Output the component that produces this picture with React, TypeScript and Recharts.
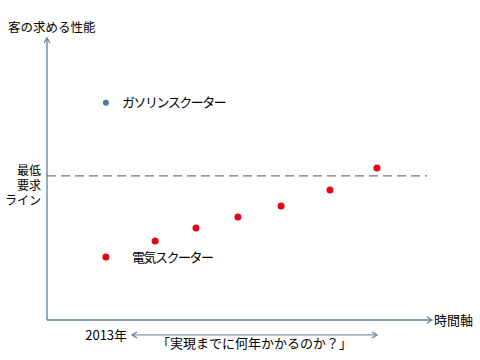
import React from 'react';
import { ScatterChart, Scatter, XAxis, YAxis, ReferenceLine, ReferenceDot } from 'recharts';

// position on the time axis (0-100) and required performance (0-100)
const electricTime = [15.3, 28.1, 38.7, 49.6, 60.8, 73.5, 85.7];
const electricPerf = [22.3, 28.0, 32.6, 36.5, 40.4, 46.1, 53.9];
const gasolineTime = [15.3];
const gasolinePerf = [77.0];
const requiredLevel = 51.1;
const requiredLineEnd = 98.7;
const spanStart = 22.1;
const spanEnd = 85.7;
const spanLevel = -5.3;

const yTitle = '客の求める性能';
const xTitle = '時間軸';
const requiredLabel = ['最低', '要求', 'ライン'];
const gasolineLabel = 'ガソリンスクーター';
const electricLabel = '電気スクーター';
const startYear = '2013年';
const spanLabel = '「実現までに何年かかるのか？」';

const electricData = electricTime.map((t, i) => ({ t, perf: electricPerf[i] }));
const gasolineData = gasolineTime.map((t, i) => ({ t, perf: gasolinePerf[i] }));

const FONT = '"Noto Sans CJK JP", sans-serif';
const AXIS = '#5b7d9c';

const arrow = (dir: 'up' | 'right' | 'left', color: string) => (p: any) => {
  const { cx, cy } = p;
  let d = '';
  if (dir === 'up') d = `M${cx - 3},${cy + 5} L${cx},${cy} L${cx + 3},${cy + 5}`;
  if (dir === 'right') d = `M${cx - 5},${cy - 3} L${cx},${cy} L${cx - 5},${cy + 3}`;
  if (dir === 'left') d = `M${cx + 5},${cy - 3} L${cx},${cy} L${cx + 5},${cy + 3}`;
  return <path d={d} fill="none" stroke={color} strokeWidth={1.2} />;
};

const dot = (color: string, r: number) => (p: any) => <circle cx={p.cx} cy={p.cy} r={r} fill={color} />;

const labelStyle = { fill: '#000', fontSize: 13, fontFamily: FONT };

export default function App() {
  return (
    <div style={{ position: 'absolute', left: 0, top: 0, fontFamily: FONT }}>
      <ScatterChart width={480} height={360} margin={{ top: 38, right: 48, bottom: 40, left: 47 }}>
        <XAxis type="number" dataKey="t" domain={[0, 100]} hide />
        <YAxis type="number" dataKey="perf" domain={[0, 100]} hide />

        <ReferenceLine x={0} stroke={AXIS} strokeWidth={1.3} />
        <ReferenceLine y={0} stroke={AXIS} strokeWidth={1.3} />
        <ReferenceDot x={0} y={100} r={0} shape={arrow('up', AXIS)} ifOverflow="visible"
          label={(p: any) => (
            <text x={p.viewBox.x - 39} y={p.viewBox.y - 6} {...labelStyle} fontSize={12.5}>{yTitle}</text>
          )} />
        <ReferenceDot x={100} y={0} r={0} shape={arrow('right', AXIS)} ifOverflow="visible"
          label={{ value: xTitle, position: 'right', offset: 2, ...labelStyle }} />

        <ReferenceLine
          segment={[{ x: 0, y: requiredLevel }, { x: requiredLineEnd, y: requiredLevel }]}
          stroke={AXIS} strokeWidth={1.2} strokeDasharray="9 5"
          label={(p: any) => (
            <text x={p.viewBox.x - 6} y={p.viewBox.y} textAnchor="end" {...labelStyle} fontSize={12}>
              {requiredLabel.map((s, i) => (
                <tspan key={i} x={p.viewBox.x - 6} y={p.viewBox.y - 1 + i * 15}>{s}</tspan>
              ))}
            </text>
          )}
        />

        <ReferenceLine
          segment={[{ x: spanStart, y: spanLevel }, { x: spanEnd, y: spanLevel }]}
          stroke={AXIS} strokeWidth={1} ifOverflow="visible"
        />
        <ReferenceDot x={spanStart} y={spanLevel} r={0} shape={arrow('left', AXIS)} ifOverflow="visible"
          label={{ value: startYear, position: 'left', offset: 5, ...labelStyle }} />
        <ReferenceDot x={spanEnd} y={spanLevel} r={0} shape={arrow('right', AXIS)} ifOverflow="visible" />
        <ReferenceDot x={(spanStart + spanEnd) / 2} y={spanLevel} r={0} ifOverflow="visible"
          label={{ value: spanLabel, position: 'bottom', offset: 4, ...labelStyle }} />

        <Scatter data={gasolineData} shape={dot('#4f76a6', 3)} isAnimationActive={false} />
        <Scatter data={electricData} shape={dot('#e30613', 3.5)} isAnimationActive={false} />

        <ReferenceDot x={gasolineTime[0]} y={gasolinePerf[0]} r={0}
          label={{ value: gasolineLabel, position: 'right', offset: 16, ...labelStyle, letterSpacing: -1.5 }} />
        <ReferenceDot x={electricTime[0]} y={electricPerf[0]} r={0}
          label={{ value: electricLabel, position: 'right', offset: 26, ...labelStyle, letterSpacing: -1.5 }} />
      </ScatterChart>
    </div>
  );
}
